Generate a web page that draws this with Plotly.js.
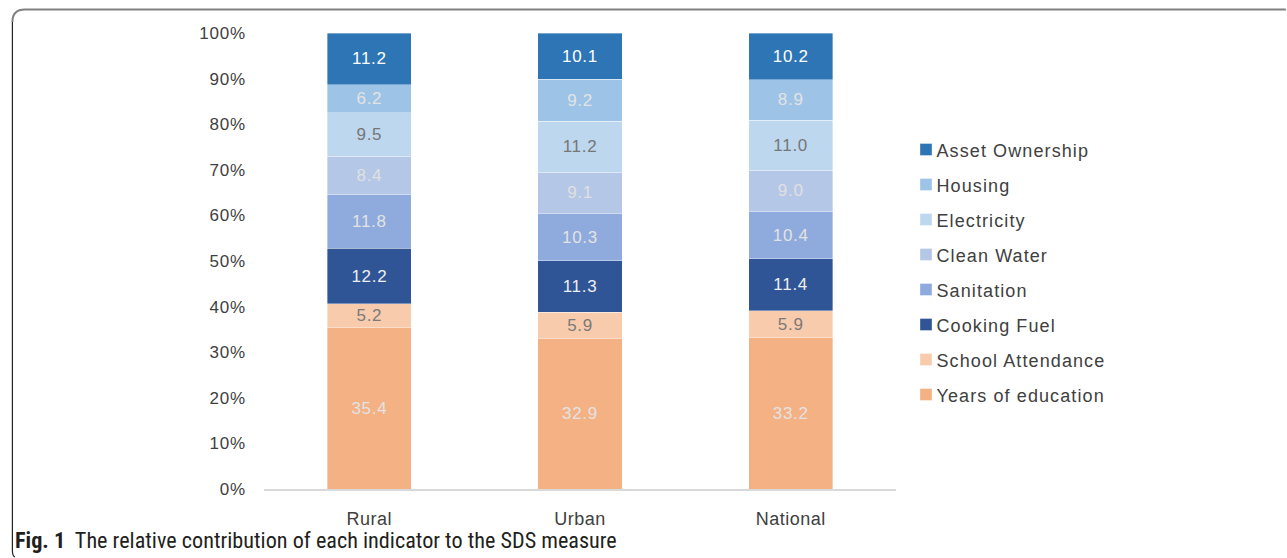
<!DOCTYPE html>
<html>
<head>
<meta charset="utf-8">
<script src="https://cdn.plot.ly/plotly-3.0.1.min.js"></script>
<style>
html,body{margin:0;padding:0;background:#fff;}
#chart{width:1287px;height:558px;}
#chart .xtick text{letter-spacing:0.5px;}
#chart .ytick text{letter-spacing:0.8px;}
#chart .legendtext{letter-spacing:1.1px;}
#chart .bartext{letter-spacing:0.7px;}
#chart g.legend g.scrollbox, #chart g.legend *{clip-path:none !important;}
#chart g.legend g.legendpoints{transform:translate(9.5px,0px);}
</style>
</head>
<body>
<div id="chart"></div>
<script>
// ---- data ----
const categories = ["Rural", "Urban", "National"];
const indicators = ["Years of education", "School Attendance", "Cooking Fuel", "Sanitation", "Clean Water", "Electricity", "Housing", "Asset Ownership"];
const yearsOfEducation = [35.4, 32.9, 33.2];
const schoolAttendance = [5.2, 5.9, 5.9];
const cookingFuel = [12.2, 11.3, 11.4];
const sanitation = [11.8, 10.3, 10.4];
const cleanWater = [8.4, 9.1, 9.0];
const electricity = [9.5, 11.2, 11.0];
const housing = [6.2, 9.2, 8.9];
const assetOwnership = [11.2, 10.1, 10.2];
const yTickValues = [0, 10, 20, 30, 40, 50, 60, 70, 80, 90, 100];
const captionBold = "Fig. 1";
const captionText = "The relative contribution of each indicator to the SDS measure";

// ---- styles ----
const seriesValues = [yearsOfEducation, schoolAttendance, cookingFuel, sanitation, cleanWater, electricity, housing, assetOwnership];
const barColors = ["#F4B183", "#F8CBAD", "#2F5597", "#8FAADC", "#B4C7E7", "#BDD7EE", "#9DC3E6", "#2E75B6"];
const textColors = ["#e3e3e3", "#7a7a7a", "#eeeeee", "#e3e3e3", "#e0e0e0", "#767676", "#e3e3e3", "#ffffff"];

const W = 1287, H = 558;
const mL = 263.5, mR = W - 896.5, mT = 33, mB = H - 489;
const pw = W - mL - mR, ph = H - mT - mB;
const px = x => (x - mL) / pw;
const py = y => (H - mB - y) / ph;

const traces = indicators.map((name, i) => ({
  type: "bar",
  name: name,
  x: categories,
  y: seriesValues[i],
  text: seriesValues[i].map(v => v.toFixed(1)),
  textposition: "inside",
  insidetextanchor: "middle",
  constraintext: "none",
  textfont: {family: "Liberation Sans, Arial, sans-serif", size: 17, color: textColors[i]},
  marker: {color: barColors[i], line: {color: "rgba(255,255,255,0.6)", width: 0.6}},
  legendgroup: "g" + i,
  legendrank: 100 - i,
  hoverinfo: "none"
}));

// frame paths (pixel -> paper)
const topPath = `M ${px(11.5)} ${py(22)} Q ${px(11.5)} ${py(9.5)} ${px(24)} ${py(9.5)} L ${px(1287)} ${py(9.5)}`;
const leftPath = `M ${px(11.5)} ${py(22)} L ${px(11.5)} ${py(550)} Q ${px(11.5)} ${py(556)} ${px(14)} ${py(557)}`;

const layout = {
  width: W, height: H,
  margin: {l: mL, r: mR, t: mT, b: mB, pad: 0},
  paper_bgcolor: "#ffffff",
  plot_bgcolor: "#ffffff",
  barmode: "stack",
  bargap: 0.6,
  font: {family: "Liberation Sans, Arial, sans-serif", color: "#595959"},
  xaxis: {
    showgrid: false, zeroline: false,
    showline: true, linecolor: "#d9d9d9", linewidth: 1.5,
    ticks: "", ticklabelstandoff: 13,
    tickfont: {size: 18, color: "#404040"},
    fixedrange: true
  },
  yaxis: {
    range: [0, 100],
    tickvals: yTickValues,
    ticktext: yTickValues.map(v => v + "%"),
    showgrid: false, zeroline: false, showline: false,
    ticks: "", ticklabelstandoff: 17,
    tickfont: {size: 17, color: "#404040"},
    fixedrange: true
  },
  showlegend: true,
  legend: {
    x: px(897), xanchor: "left",
    y: py(131.3), yanchor: "top",
    traceorder: "grouped",
    tracegroupgap: 8.6,
    font: {size: 18, color: "#404040"},
    bgcolor: "rgba(0,0,0,0)",
    itemclick: false, itemdoubleclick: false
  },
  shapes: [
    {type: "path", xref: "paper", yref: "paper", path: topPath, line: {color: "#808080", width: 2}},
    {type: "path", xref: "paper", yref: "paper", path: leftPath, line: {color: "#222222", width: 1.2}}
  ],
  annotations: [{
    xref: "paper", yref: "paper",
    x: px(12), y: py(540), xanchor: "left", yanchor: "middle",
    showarrow: false,
    text: "<b>" + captionBold + "</b>  " + captionText,
    font: {family: "Roboto Condensed, Liberation Sans Narrow, Liberation Sans, Arial, sans-serif", size: 22.2, color: "#231f20"}
  }]
};

Plotly.newPlot("chart", traces, layout, {displayModeBar: false, staticPlot: true});
</script>
</body>
</html>
